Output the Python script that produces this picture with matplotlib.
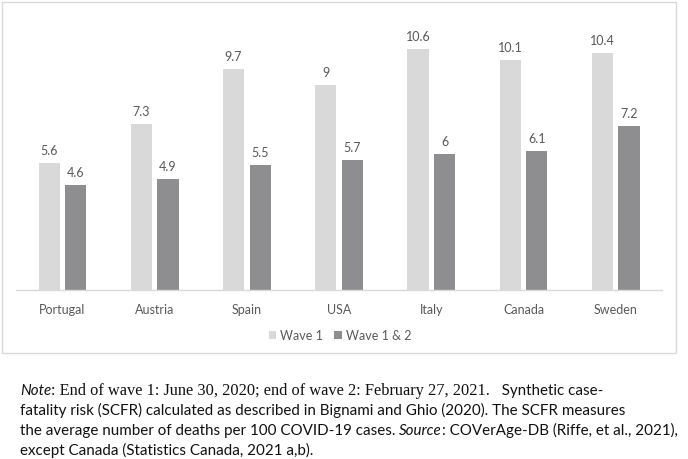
import matplotlib
matplotlib.use("Agg")
import matplotlib.pyplot as plt
import numpy as np
from matplotlib.patches import Rectangle

categories = ["Portugal", "Austria", "Spain", "USA", "Italy", "Canada", "Sweden"]
wave1 = [5.6, 7.3, 9.7, 9.0, 10.6, 10.1, 10.4]
wave12 = [4.6, 4.9, 5.5, 5.7, 6.0, 6.1, 7.2]
series_names = ["Wave 1", "Wave 1 & 2"]

W, H = 688, 460
fig = plt.figure(figsize=(W / 100, H / 100), dpi=100)
SANS = "Lato"
TXT = "#595959"

def fx(px):
    return px / W

def fy(py):
    return 1 - py / H

ax = fig.add_axes([fx(16.4), fy(291), fx(661.8 - 16.4), (291 - 18) / H])
x = np.arange(len(categories))
bw = 0.23
off = 0.144
b1 = ax.bar(x - off, wave1, bw, color="#d9d9d9", label=series_names[0])
b2 = ax.bar(x + off, wave12, bw, color="#8e8e90", label=series_names[1])
for bars, vals in ((b1, wave1), (b2, wave12)):
    for r, v in zip(bars, vals):
        lab = f"{v:g}"
        ax.annotate(lab, (r.get_x() + r.get_width() / 2, v), xytext=(0, 5),
                    textcoords="offset points", ha="center", va="bottom",
                    fontsize=9, color=TXT, family=SANS)
ax.set_xlim(-0.5, len(categories) - 0.5)
ax.set_ylim(0, 12)
ax.set_yticks([])
ax.set_xticks(x)
ax.set_xticklabels(categories, fontsize=9, color=TXT, family=SANS)
ax.tick_params(axis="x", length=0, pad=9)
for s in ("top", "right", "left"):
    ax.spines[s].set_visible(False)
ax.spines["bottom"].set_color("#d9d9d9")
ax.spines["bottom"].set_linewidth(1)

leg = fig.legend(handles=[b1, b2], loc="center", bbox_to_anchor=(fx(340), fy(336)),
                 ncol=2, frameon=False, prop={"family": SANS, "size": 9},
                 handlelength=0.6, handleheight=0.6, handletextpad=0.3,
                 columnspacing=0.9)
for t in leg.get_texts():
    t.set_color(TXT)

fig.patches.append(Rectangle((fx(1.5), fy(354)), fx(676 - 1.5), (354 - 3) / H,
                             transform=fig.transFigure, fill=False,
                             edgecolor="#d9d9d9", linewidth=1))

# Note text with mixed fonts
note_lines = [
    [("Note", SANS, "italic"), (": End of wave 1: June 30, 2020; end of wave 2: February 27, 2021.", "Liberation Serif", "normal"),
     ("   Synthetic case-", SANS, "normal")],
    [("fatality risk (SCFR) calculated as described in Bignami and Ghio (2020). The SCFR measures", SANS, "normal")],
    [("the average number of deaths per 100 COVID-19 cases. ", SANS, "normal"), ("Source", SANS, "italic"),
     (": COVerAge-DB (Riffe, et al., 2021),", SANS, "normal")],
    [("except Canada (Statistics Canada, 2021 a,b).", SANS, "normal")],
]
line_base = [395, 415.5, 435.5, 455.5]
fig.canvas.draw()
renderer = fig.canvas.get_renderer()
for segs, ly in zip(note_lines, line_base):
    xpos = 20.0
    for txt, fam, sty in segs:
        size = 11.8 if fam == "Liberation Serif" else 10.9
        t = fig.text(fx(xpos), fy(ly), txt, family=fam, style=sty, fontsize=size,
                     color="#111111", ha="left", va="baseline")
        bb = t.get_window_extent(renderer=renderer)
        xpos += bb.width

fig.savefig("out.png", dpi=100)
